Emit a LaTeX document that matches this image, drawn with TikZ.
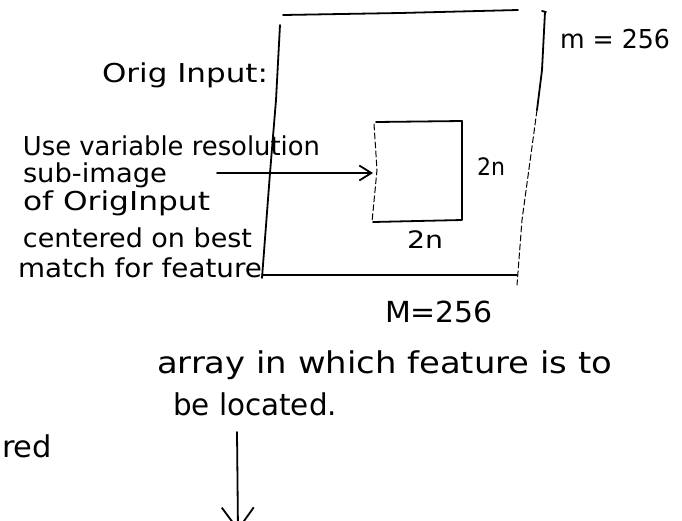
\documentclass[tikz,border=0pt]{standalone}
\usepackage{fontspec}
\setmainfont{DejaVu Sans}
\usetikzlibrary{arrows.meta}
\newcommand{\hw}[2]{\resizebox{#1}{\height}{#2}}
\begin{document}
\begin{tikzpicture}[x=1pt,y=-1pt,
  pen/.style={line width=1.8pt, line cap=round, line join=round},
  faint/.style={line width=1pt, line cap=round, dash pattern=on 6pt off 3pt},
  txt/.style={anchor=base west, inner sep=0pt, outer sep=0pt, font=\fontsize{26}{28}\selectfont},
  bigtxt/.style={txt, font=\fontsize{30}{32}\selectfont},
  numtxt/.style={txt, font=\fontsize{29}{32}\selectfont},
  smnumtxt/.style={txt, font=\fontsize{26}{30}\selectfont},
  ntxt/.style={txt, font=\fontsize{24}{28}\selectfont},
  barb/.style={-{Straight Barb[length=12pt,width=15pt,line width=1.8pt]}}]
\useasboundingbox (0,0) rectangle (682,520);
\clip (0,0) rectangle (682,520);
% big array
\draw[pen] (283,15) -- (400,13) -- (518,10);
\draw[pen] (542,11) -- (546,12);
\draw[pen] (280,25) -- (276,100) -- (270,173) -- (262,278);
\draw[pen] (262,275) -- (517,275);
\draw[pen] (545,12) -- (542,70) -- (537,110);
\draw[faint] (537,110) -- (522,220) -- (517,285);
% sub-image
\draw[pen] (376,122) -- (462,121) -- (462,220) -- (373,222);
\draw[faint] (374,124) -- (377,170) -- (372,222);
\coordinate (subL) at (373,173);
% texts
\node[txt] (orig)  at (102,82)  {\hw{166pt}{Orig Input:}};
\node[txt] (use)   at (23,155)  {\hw{297pt}{Use variable resolution}};
\node[txt] (sub)   at (23,182)  {\hw{144pt}{sub-image}};
\node[txt] (of)    at (23,210)  {\hw{187pt}{of OrigInput}};
\node[txt] (cent)  at (23,247)  {\hw{229pt}{centered on best}};
\node[txt] (match) at (18,277)  {\hw{244pt}{match for feature}};
\node[smnumtxt] (msmall) at (560,48) {\hw{110pt}{m = 256}};
\node[numtxt] (Mbig)  at (385,322) {\hw{108pt}{M=256}};
\node[ntxt] (nr)    at (477,175) {\hw{28pt}{2n}};
\node[ntxt] (nb)    at (407,248) {\hw{36pt}{2n}};
\node[bigtxt] (array) at (157,373) {\hw{455pt}{array in which feature is to}};
\node[bigtxt] (loc)   at (173,415) {\hw{164pt}{be located.}};
\node[bigtxt] (red)   at (2,457)   {\hw{50pt}{red}};
% arrows
\coordinate (aS) at (217,173);
\draw[pen,barb] (aS) -- (subL);
\coordinate (dS) at (237,432);
\coordinate (dE) at (238,531);
\draw[pen,-{Straight Barb[length=22pt,width=32pt,line width=1.8pt]}] (dS) -- (dE);
\end{tikzpicture}
\end{document}
